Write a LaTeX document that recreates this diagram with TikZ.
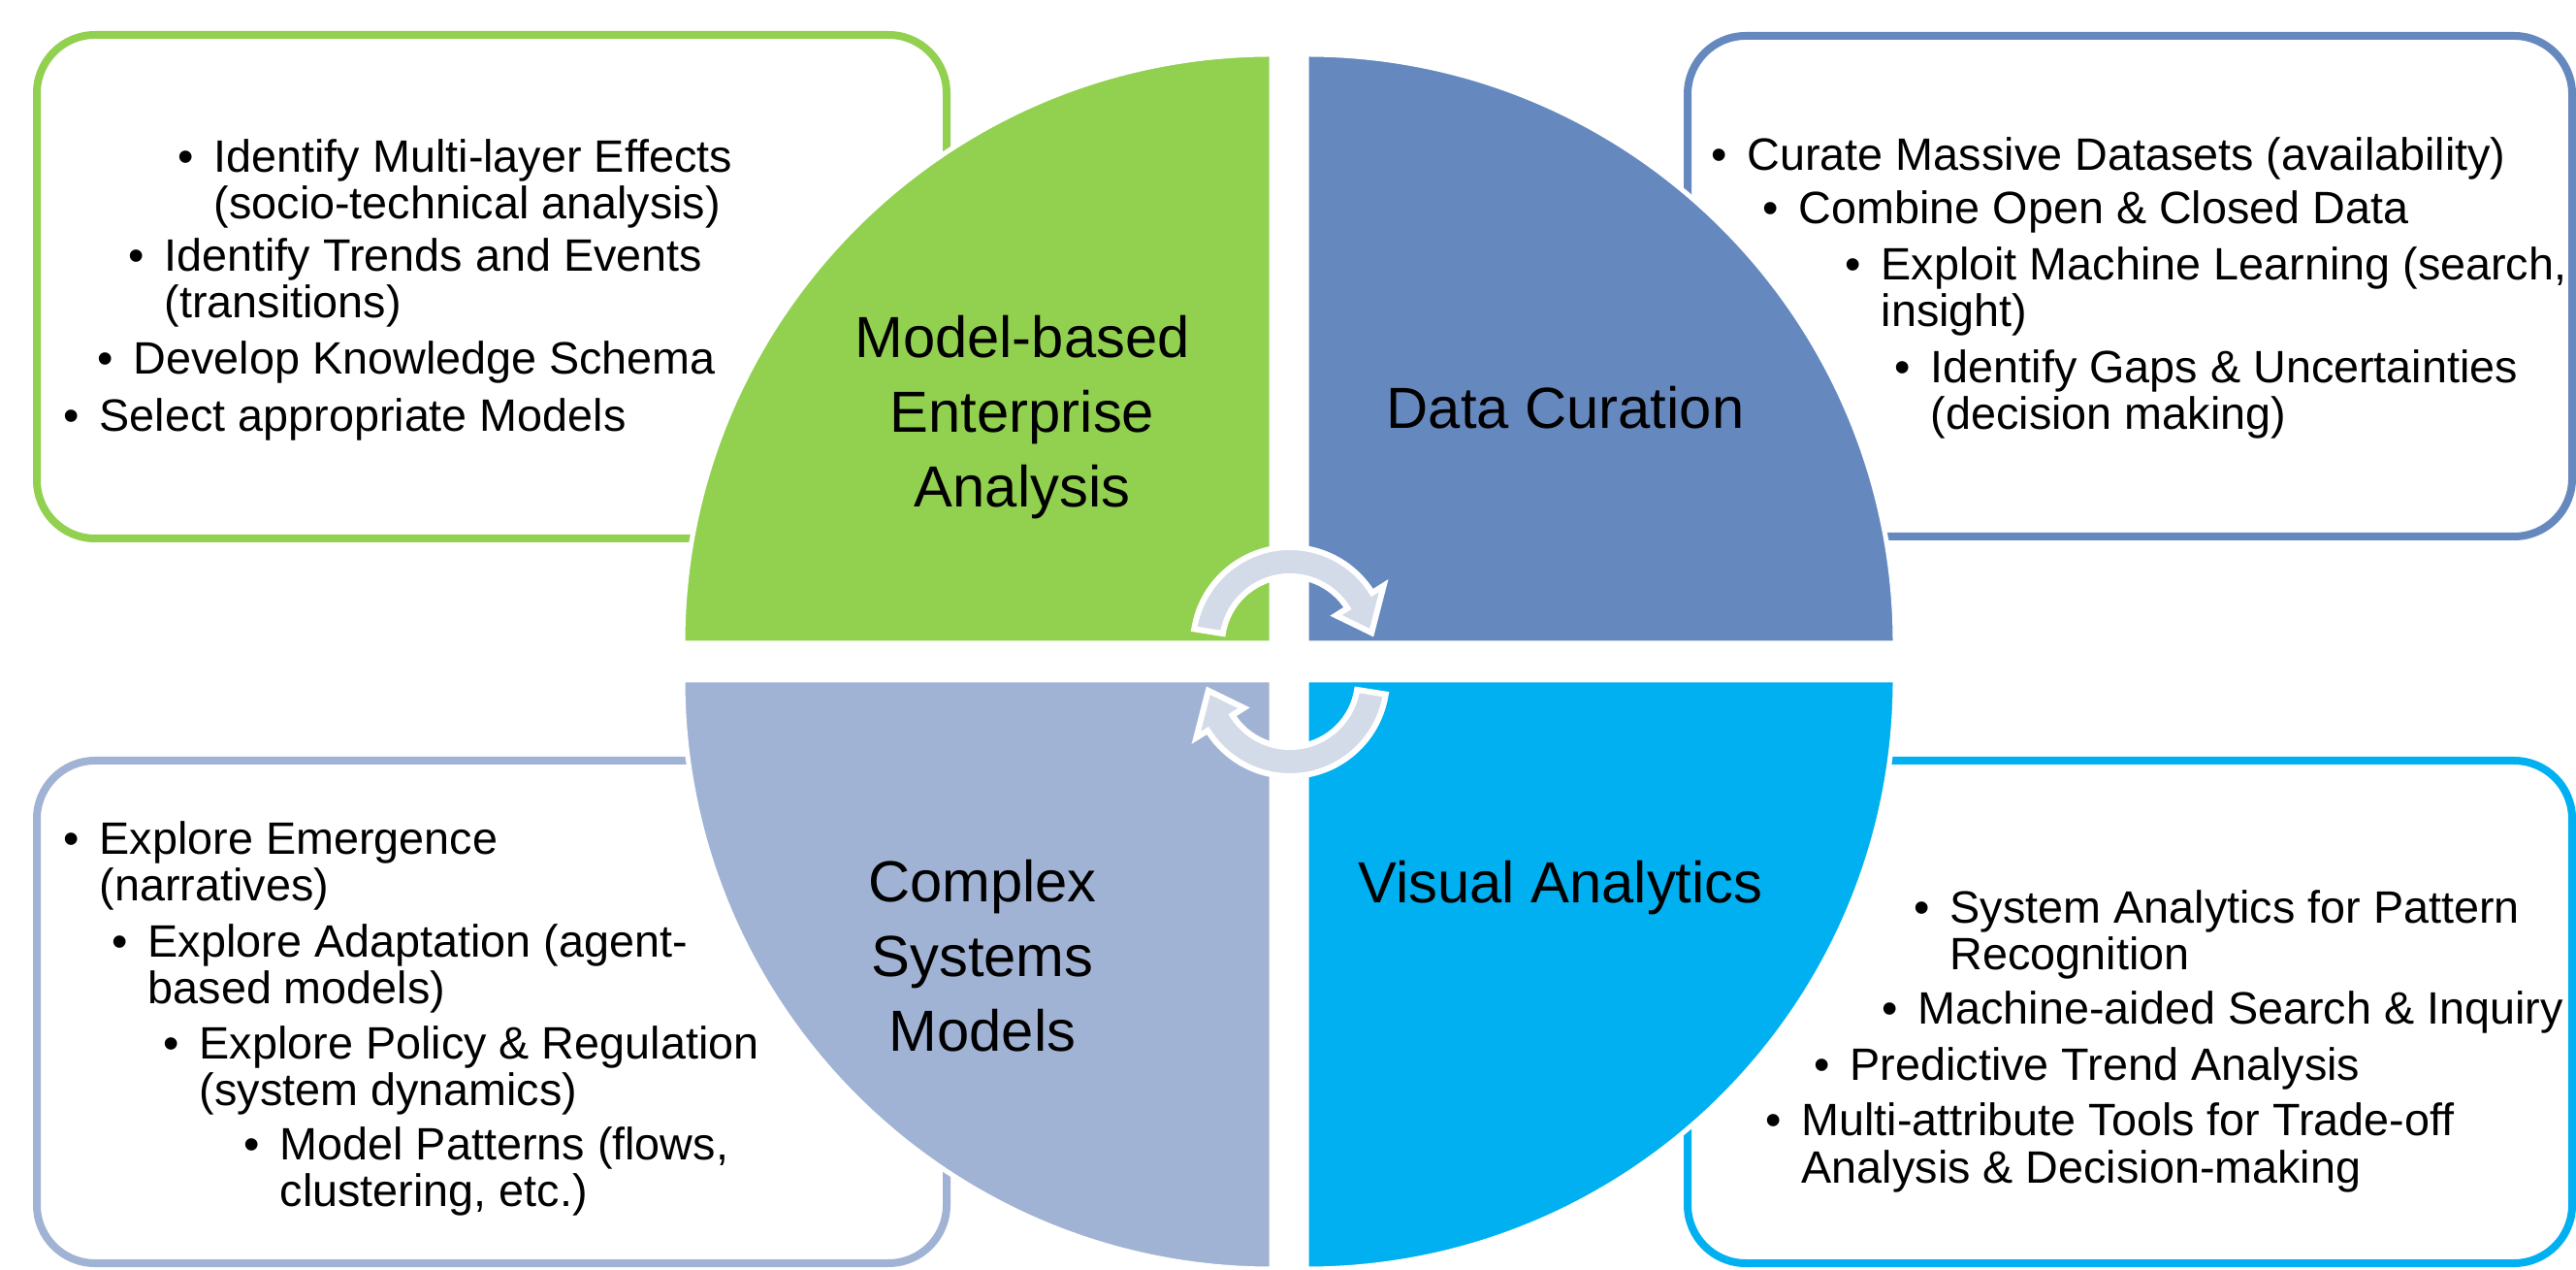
\documentclass[tikz,border=0pt]{standalone}
\usepackage{fontspec}
\setmainfont{Liberation Sans}
\usepackage{tikz}

\definecolor{mbgreen}{HTML}{92D050}
\definecolor{dcblue}{HTML}{6589BF}
\definecolor{csgrey}{HTML}{A1B3D4}
\definecolor{vacyan}{HTML}{00B0F0}
\definecolor{cyclegrey}{HTML}{D3DAE8}

\newcommand{\itemdot}{\llap{\textbullet\hspace{0.45em}}}

\begin{document}
\begin{tikzpicture}[
	textbox/.style={fill=white, line width=0.8mm, rounded corners=6mm},
	quarter/.style={draw=white, line width=0.5mm},
	cycarrow/.style={fill=cyclegrey, draw=white, line width=0.6mm},
	bul/.style={anchor=base west, align=left, inner sep=0pt, font=\fontsize{13.3}{13.8}\selectfont},
	title/.style={align=center, inner sep=0pt, font=\fontsize{17}{22}\selectfont}
]
	\useasboundingbox (0,0) rectangle (26.56,-13.09);
	\fill[white] (0,0) rectangle (26.56,-13.09);

	% boxes behind the circle
	\draw[textbox, draw=mbgreen] (0.38,-0.36) rectangle (9.76,-5.55);
	\draw[textbox, draw=dcblue]  (17.40,-0.37) rectangle (26.52,-5.53);
	\draw[textbox, draw=csgrey]  (0.38,-7.84) rectangle (9.76,-13.02);
	\draw[textbox, draw=vacyan]  (17.40,-7.84) rectangle (26.52,-13.02);

	% the four quarters
	\filldraw[quarter, fill=mbgreen] (13.11,-6.63) -- ++(-6.07,0) arc[start angle=180, end angle=90, radius=6.07] -- cycle;
	\filldraw[quarter, fill=dcblue]  (13.47,-6.63) -- ++(0,6.07) arc[start angle=90, end angle=0, radius=6.07] -- cycle;
	\filldraw[quarter, fill=csgrey]  (13.11,-7.01) -- ++(0,-6.07) arc[start angle=270, end angle=180, radius=6.07] -- cycle;
	\filldraw[quarter, fill=vacyan]  (13.47,-7.01) -- ++(6.07,0) arc[start angle=0, end angle=-90, radius=6.07] -- cycle;

	% cycle arrows
	\begin{scope}[shift={(13.30,-6.64)}]
		\filldraw[cycarrow] (171:1.0) arc[start angle=171, end angle=32, radius=1.0] -- (32:1.14) -- (8:0.85) -- (32:0.56) -- (32:0.7) arc[start angle=32, end angle=171, radius=0.7] -- cycle;
	\end{scope}
	\begin{scope}[shift={(13.30,-7.00)}, rotate=180]
		\filldraw[cycarrow] (171:1.0) arc[start angle=171, end angle=32, radius=1.0] -- (32:1.14) -- (8:0.85) -- (32:0.56) -- (32:0.7) arc[start angle=32, end angle=171, radius=0.7] -- cycle;
	\end{scope}

	% titles
	\node[title] (mbea) at (10.54,-4.30) {Model-based\\Enterprise\\Analysis};
	\node[title] (dc) at (16.14,-4.20) {Data Curation};
	\node[title] (csm) at (10.13,-9.85) {Complex\\Systems\\Models};
	\node[title] (va) at (16.09,-9.15) {Visual Analytics};

	% top left (two-line items sit on their last line)
	\node[bul] (mb1) at (2.20,-2.26) {\itemdot Identify Multi-layer Effects\\(socio-technical analysis)};
	\node[bul] (mb2) at (1.69,-3.28) {\itemdot Identify Trends and Events\\(transitions)};
	\node[bul] (mb3) at (1.37,-3.86) {\itemdot Develop Knowledge Schema};
	\node[bul] (mb4) at (1.02,-4.45) {\itemdot Select appropriate Models};

	% top right
	\node[bul] (dc1) at (18.01,-1.76) {\itemdot Curate Massive Datasets (availability)};
	\node[bul] (dc2) at (18.54,-2.31) {\itemdot Combine Open \& Closed Data};
	\node[bul] (dc3) at (19.39,-3.37) {\itemdot Exploit Machine Learning (search,\\insight)};
	\node[bul] (dc4) at (19.90,-4.43) {\itemdot Identify Gaps \& Uncertainties\\(decision making)};

	% bottom left
	\node[bul] (cs1) at (1.02,-9.29) {\itemdot Explore Emergence\\(narratives)};
	\node[bul] (cs2) at (1.52,-10.35) {\itemdot Explore Adaptation (agent-\\based models)};
	\node[bul] (cs3) at (2.05,-11.40) {\itemdot Explore Policy \& Regulation\\(system dynamics)};
	\node[bul] (cs4) at (2.88,-12.44) {\itemdot Model Patterns (flows,\\clustering, etc.)};

	% bottom right
	\node[bul] (va1) at (20.10,-10.00) {\itemdot System Analytics for Pattern\\Recognition};
	\node[bul] (va2) at (19.77,-10.56) {\itemdot Machine-aided Search \& Inquiry};
	\node[bul] (va3) at (19.07,-11.14) {\itemdot Predictive Trend Analysis};
	\node[bul] (va4) at (18.57,-12.19) {\itemdot Multi-attribute Tools for Trade-off\\Analysis \& Decision-making};
\end{tikzpicture}
\end{document}
